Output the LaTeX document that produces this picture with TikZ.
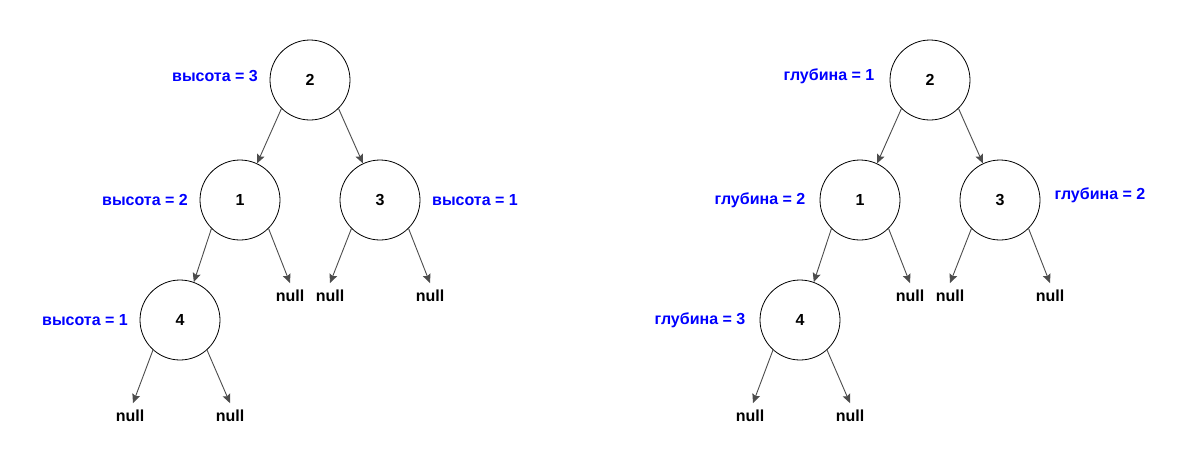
\documentclass[tikz,border=0pt]{standalone}
\usepackage{fontspec}
\setmainfont{Liberation Sans}
\usepackage{tikz}
\usetikzlibrary{arrows.meta,positioning}

\begin{document}
\begin{tikzpicture}[x=1pt,y=-1pt]

\tikzset{
  treenode/.style={circle, draw=black, line width=0.8pt, fill=white,
                  minimum size=80pt, inner sep=0pt,
                  font=\fontsize{16}{19}\selectfont\bfseries},
  nullnode/.style={font=\fontsize{16}{19}\selectfont\bfseries,
                  inner sep=0pt, outer sep=0pt},
  infolabel/.style={text=blue, font=\fontsize{16}{19}\selectfont\bfseries},
  child/.style={black!70, line width=0.9pt,
                  -{Stealth[length=9pt, width=8pt, inset=1.5pt]}}
}

\useasboundingbox (0,0) rectangle (1180,459);

% Left tree (height)
\node[treenode] (h2) at (310, 80) {2};
\node[treenode] (h1) at (240,200) {1};
\node[treenode] (h3) at (380,200) {3};
\node[treenode] (h4) at (180,320) {4};

\node[nullnode] (hn1) at (290,296) {null};
\node[nullnode] (hn2) at (330,296) {null};
\node[nullnode] (hn3) at (430,296) {null};
\node[nullnode] (hn4) at (130,416) {null};
\node[nullnode] (hn5) at (230,416) {null};

\node[infolabel] (lh2) at (215, 76) {высота = 3};
\node[infolabel] (lh1) at (145,200) {высота = 2};
\node[infolabel] (lh3) at (475,200) {высота = 1};
\node[infolabel] (lh4) at ( 85,320) {высота = 1};

\draw[child] (h2.225) -- (h1.65);
\draw[child] (h2.315) -- (h3.115);
\draw[child] (h1.225) -- (h4.70);
\draw[child] (h1.315) -- ([yshift=7pt]hn1.north);
\draw[child] (h3.225) -- ([yshift=7pt]hn2.north);
\draw[child] (h3.315) -- ([yshift=7pt]hn3.north);
\draw[child] (h4.228) -- ([xshift=3pt,yshift=7pt]hn4.north);
\draw[child] (h4.312) -- ([yshift=7pt]hn5.north);

% Right tree (depth)
\node[treenode] (d2) at (930, 80) {2};
\node[treenode] (d1) at (860,200) {1};
\node[treenode] (d3) at (1000,200) {3};
\node[treenode] (d4) at (800,320) {4};

\node[nullnode] (dn1) at (910,296) {null};
\node[nullnode] (dn2) at (950,296) {null};
\node[nullnode] (dn3) at (1050,296) {null};
\node[nullnode] (dn4) at (750,416) {null};
\node[nullnode] (dn5) at (850,416) {null};

\node[infolabel] (ld2) at (829, 76) {глубина = 1};
\node[infolabel] (ld1) at (760,200) {глубина = 2};
\node[infolabel] (ld3) at (1100,195) {глубина = 2};
\node[infolabel] (ld4) at (700,320) {глубина = 3};

\draw[child] (d2.225) -- (d1.65);
\draw[child] (d2.315) -- (d3.115);
\draw[child] (d1.225) -- (d4.70);
\draw[child] (d1.315) -- ([yshift=7pt]dn1.north);
\draw[child] (d3.225) -- ([yshift=7pt]dn2.north);
\draw[child] (d3.315) -- ([yshift=7pt]dn3.north);
\draw[child] (d4.228) -- ([xshift=3pt,yshift=7pt]dn4.north);
\draw[child] (d4.312) -- ([yshift=7pt]dn5.north);

\end{tikzpicture}
\end{document}
